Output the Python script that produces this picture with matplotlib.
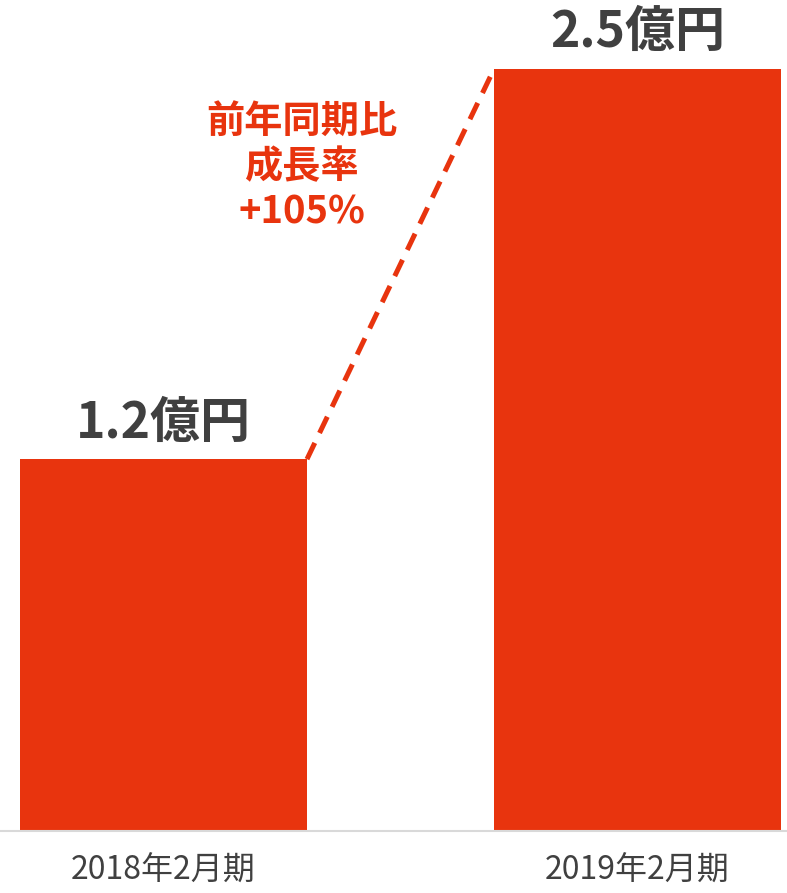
import matplotlib
matplotlib.use("Agg")
import matplotlib.pyplot as plt

plt.rcParams["font.family"] = ["Noto Sans CJK JP", "DejaVu Sans"]

# data
periods = ["2018年2月期", "2019年2月期"]
sales = [1.22, 2.50]          # 億円
value_labels = ["1.2億円", "2.5億円"]
growth_label = "前年同期比\n成長率\n+105%"

ORANGE = "#E8340E"
DARK = "#404040"

fig = plt.figure(figsize=(7.87, 8.93), dpi=100)
ax = fig.add_axes([0, 62 / 893, 1, 831 / 893])

x = list(range(len(periods)))
w = 287 / 474
ax.bar(x, sales, width=w, color=ORANGE, zorder=2)

ax.set_xlim(-163.5 / 474, 1 + 149.5 / 474)
ax.set_ylim(0, 831 / 304.8)

for xi, v, lab in zip(x, sales, value_labels):
    ax.text(xi, v + 0.035, lab, ha="center", va="bottom", fontsize=36,
            fontweight="bold", color=DARK)

# dashed growth line between bar corners
ax.plot([x[0] + w / 2, x[1] - w / 2], [sales[0], sales[1]], ls=(0, (3.6, 2.2)),
        color=ORANGE, lw=3.6, zorder=3)

ax.text(0.292, 2.18, growth_label, ha="center", va="center", fontsize=27.5,
        fontweight="bold", color=ORANGE, linespacing=1.2)

ax.set_xticks(x)
ax.set_xticklabels(periods, fontsize=23, color=DARK)
ax.tick_params(axis="x", length=0, pad=17)
ax.set_yticks([])
for s in ["top", "left", "right"]:
    ax.spines[s].set_visible(False)
ax.spines["bottom"].set_color("#d9d9d9")
ax.spines["bottom"].set_linewidth(1.5)

fig.savefig("out.png", dpi=100)
